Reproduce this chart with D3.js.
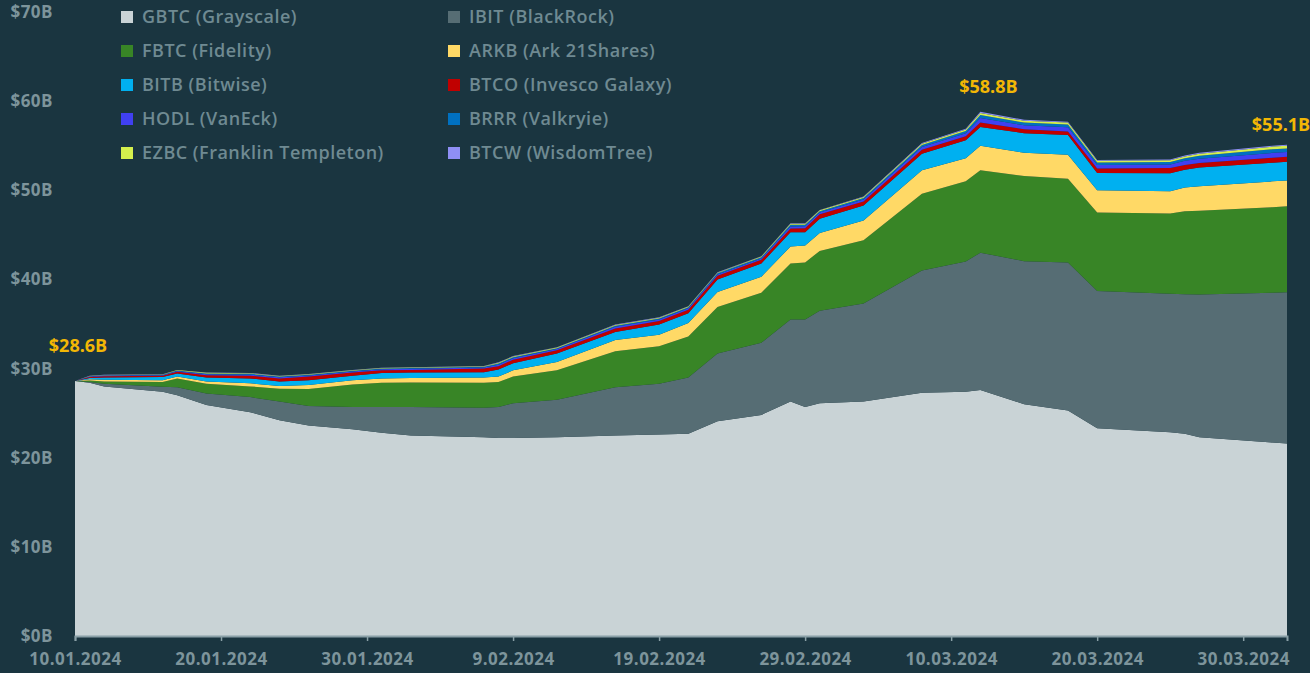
<!DOCTYPE html>
<html>
<head>
<meta charset="utf-8">
<script src="https://cdn.jsdelivr.net/npm/d3@7"></script>
<style>
  html, body { margin: 0; padding: 0; background: #1a3540; }
  svg { display: block; }
  text { font-family: "Open Sans", "Noto Sans", sans-serif; }
</style>
</head>
<body>
<svg id="chart" width="1310" height="673"></svg>
<script>
// ---- data (US$ billions, AUM per ETF) ----
const dates = ["2024-01-10","2024-01-11","2024-01-12","2024-01-16","2024-01-17","2024-01-19","2024-01-22","2024-01-24","2024-01-26","2024-01-29","2024-01-31","2024-02-02","2024-02-07","2024-02-08","2024-02-09","2024-02-12","2024-02-16","2024-02-19","2024-02-21","2024-02-23","2024-02-26","2024-02-28","2024-02-29","2024-03-01","2024-03-04","2024-03-08","2024-03-11","2024-03-12","2024-03-15","2024-03-18","2024-03-20","2024-03-25","2024-03-26","2024-03-27","2024-04-01","2024-04-02"];
const GBTC = [28.6,28.4,28.0,27.4,27.0,25.9,25.1,24.2,23.6,23.2,22.8,22.5,22.3,22.2,22.2,22.3,22.5,22.6,22.7,24.1,24.8,26.3,25.7,26.1,26.3,27.3,27.4,27.6,26.0,25.3,23.3,22.85,22.7,22.3,21.7,21.6];
const IBIT = [0,0.1,0.3,0.55,0.9,1.3,1.7,2.1,2.2,2.5,2.9,3.2,3.3,3.5,3.9,4.2,5.4,5.7,6.3,7.6,8.1,9.2,9.8,10.4,11.0,13.7,14.6,15.4,16.05,16.6,15.4,15.55,15.65,16.0,16.8,16.95];
const FBTC = [0,0.15,0.25,0.55,1.0,1.1,1.2,1.45,1.9,2.5,2.7,2.75,2.8,2.8,3.0,3.3,4.05,4.2,4.6,5.2,5.6,6.3,6.4,6.7,7.1,8.6,9.0,9.25,9.55,9.4,8.8,9.0,9.3,9.4,9.6,9.65];
const ARKB = [0,0.15,0.2,0.2,0.2,0.25,0.35,0.3,0.45,0.5,0.5,0.5,0.6,0.6,0.7,0.95,1.25,1.3,1.5,1.7,1.8,1.9,1.9,2.0,2.2,2.65,2.6,2.75,2.6,2.7,2.5,2.5,2.65,2.75,2.9,2.9];
const BITB = [0,0.15,0.25,0.35,0.35,0.45,0.55,0.5,0.55,0.5,0.6,0.6,0.6,0.8,0.8,0.95,0.9,1.15,1.1,1.4,1.5,1.6,1.5,1.6,1.7,1.85,2.0,2.1,2.2,2.2,1.95,2.0,2.0,2.1,2.1,2.1];
const BTCO = [0,0.1,0.15,0.15,0.2,0.25,0.3,0.35,0.4,0.35,0.3,0.3,0.4,0.35,0.4,0.35,0.4,0.4,0.4,0.4,0.4,0.4,0.45,0.5,0.45,0.45,0.45,0.5,0.45,0.4,0.5,0.6,0.55,0.5,0.55,0.55];
const HODL = [0,0.05,0.06,0.06,0.08,0.12,0.12,0.12,0.12,0.12,0.12,0.12,0.12,0.18,0.16,0.14,0.18,0.16,0.16,0.16,0.16,0.24,0.22,0.2,0.22,0.3,0.34,0.5,0.45,0.47,0.4,0.4,0.45,0.5,0.55,0.55];
const BRRR = [0,0.05,0.04,0.04,0.06,0.09,0.09,0.09,0.09,0.09,0.09,0.09,0.09,0.13,0.12,0.1,0.13,0.12,0.12,0.12,0.12,0.18,0.17,0.15,0.17,0.23,0.26,0.35,0.3,0.32,0.28,0.28,0.3,0.33,0.4,0.4];
const EZBC = [0,0.03,0.03,0.03,0.04,0.06,0.06,0.06,0.06,0.06,0.06,0.06,0.06,0.09,0.08,0.07,0.09,0.08,0.08,0.08,0.08,0.12,0.11,0.1,0.11,0.15,0.17,0.23,0.2,0.21,0.18,0.18,0.2,0.22,0.3,0.3];
const BTCW = [0,0.02,0.02,0.02,0.02,0.03,0.03,0.03,0.03,0.03,0.03,0.03,0.03,0.05,0.04,0.04,0.05,0.04,0.04,0.04,0.04,0.06,0.05,0.05,0.05,0.07,0.08,0.12,0.1,0.1,0.09,0.09,0.1,0.1,0.1,0.1];

const seriesKeys   = ["GBTC","IBIT","FBTC","ARKB","BITB","BTCO","HODL","BRRR","EZBC","BTCW"];
const seriesLabels = ["GBTC (Grayscale)","IBIT (BlackRock)","FBTC (Fidelity)","ARKB (Ark 21Shares)","BITB (Bitwise)","BTCO (Invesco Galaxy)","HODL (VanEck)","BRRR (Valkryie)","EZBC (Franklin Templeton)","BTCW (WisdomTree)"];
const seriesColors = ["#c9d3d6","#566d74","#388526","#ffd966","#00b0f0","#c00000","#4040f2","#0070c0","#d4ef4d","#8f8ff5"];
const seriesValues = [GBTC, IBIT, FBTC, ARKB, BITB, BTCO, HODL, BRRR, EZBC, BTCW];

const xTickDates = ["2024-01-10","2024-01-20","2024-01-30","2024-02-09","2024-02-19","2024-02-29","2024-03-10","2024-03-20","2024-03-30"];
const yTicks = [0,10,20,30,40,50,60,70];

// ---- build ----
const parse = d3.timeParse("%Y-%m-%d");
const rows = dates.map((d, i) => {
  const r = { date: parse(d) };
  seriesKeys.forEach((k, j) => { r[k] = seriesValues[j][i]; });
  r.total = seriesKeys.reduce((s, k) => s + r[k], 0);
  return r;
});

const svg = d3.select("#chart");
const x = d3.scaleTime().domain([rows[0].date, rows[rows.length - 1].date]).range([75, 1287]);
const y = d3.scaleLinear().domain([0, 70]).range([636, 12]);

const stack = d3.stack().keys(seriesKeys);
const layers = stack(rows);
const area = d3.area()
  .x(d => x(d.data.date))
  .y0(d => y(d[0]))
  .y1(d => y(d[1]));

svg.append("g").selectAll("path")
  .data(layers)
  .join("path")
  .attr("d", area)
  .attr("fill", (d, i) => seriesColors[i]);

// x axis
const xAxis = d3.axisBottom(x)
  .tickValues(xTickDates.map(parse))
  .tickFormat(d3.timeFormat("%-d.%m.%Y"))
  .tickSize(5)
  .tickPadding(12);
const gx = svg.append("g").attr("transform", "translate(0,636)").call(xAxis);
gx.select(".domain").attr("stroke", "#8aa0a7").attr("stroke-width", 2);
gx.selectAll(".tick line").attr("stroke", "#8aa0a7").attr("stroke-width", 1.5);
gx.selectAll(".tick text")
  .attr("fill", "#7d949b")
  .style("font-size", "17px")
  .style("font-weight", "700")
  .style("letter-spacing", "0.5px");

// y axis labels
const yAxis = d3.axisLeft(y)
  .tickValues(yTicks)
  .tickFormat(v => "$" + v + "B")
  .tickSize(0)
  .tickPadding(0);
const gy = svg.append("g").attr("transform", "translate(53,0)").call(yAxis);
gy.select(".domain").remove();
gy.selectAll(".tick text")
  .attr("fill", "#7d949b")
  .style("font-size", "17px")
  .style("font-weight", "700")
  .style("letter-spacing", "0.5px");

// legend
const legend = svg.append("g");
seriesKeys.forEach((k, i) => {
  const col = i % 2, row = Math.floor(i / 2);
  const lx = col === 0 ? 121 : 448;
  const ly = 17 + row * 34;
  legend.append("rect")
    .attr("x", lx).attr("y", ly - 6).attr("width", 12).attr("height", 12)
    .attr("fill", seriesColors[i]);
  legend.append("text")
    .attr("x", lx + 21).attr("y", ly)
    .attr("dy", "0.35em")
    .attr("fill", "#6f8a92")
    .style("font-size", "18px")
    .style("font-weight", "600")
    .style("letter-spacing", "0.5px")
    .text(seriesLabels[i]);
});

// total annotations: first point, peak, last point
const peakIdx = d3.maxIndex(rows, r => r.total);
const annotations = [
  { idx: 0, dx: 3, dy: -35 },
  { idx: peakIdx, dx: 8, dy: -25 },
  { idx: rows.length - 1, dx: -6, dy: -20 }
];
svg.append("g").selectAll("text")
  .data(annotations)
  .join("text")
  .attr("x", a => x(rows[a.idx].date) + a.dx)
  .attr("y", a => y(rows[a.idx].total) + a.dy)
  .attr("dy", "0.35em")
  .attr("text-anchor", "middle")
  .attr("fill", "#f2b705")
  .style("font-size", "18px")
  .style("font-weight", "700")
  .text(a => "$" + rows[a.idx].total.toFixed(1) + "B");
</script>
</body>
</html>
